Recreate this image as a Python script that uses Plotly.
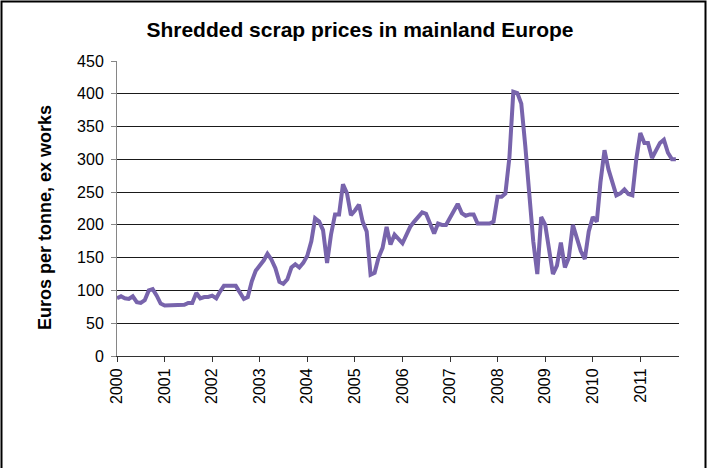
import plotly.graph_objects as go
import pandas as pd

# Monthly prices, Jan 2000 .. Oct 2011 (euros per tonne, ex works)
prices_2000 = [88, 91, 88, 87, 91, 82, 81, 85, 100, 102, 92, 80]
prices_2001 = [77, 77, 77, 77, 77, 78, 81, 81, 96, 88, 90, 90]
prices_2002 = [92, 88, 98, 107, 107, 107, 107, 97, 87, 90, 114, 130]
prices_2003 = [138, 146, 156, 147, 134, 113, 110, 117, 135, 140, 135, 142]
prices_2004 = [153, 175, 210, 205, 192, 142, 185, 216, 216, 262, 248, 215]
prices_2005 = [222, 231, 205, 190, 124, 127, 150, 165, 197, 170, 185, 178]
prices_2006 = [172, 185, 197, 205, 212, 219, 217, 202, 187, 202, 200, 200]
prices_2007 = [210, 222, 232, 218, 214, 216, 216, 202, 202, 202, 202, 205]
prices_2008 = [243, 243, 248, 303, 403, 401, 385, 320, 245, 175, 125, 212]
prices_2009 = [200, 160, 125, 138, 173, 135, 150, 200, 180, 160, 148, 190]
prices_2010 = [212, 205, 265, 314, 285, 262, 245, 248, 254, 247, 245, 300]
prices_2011 = [340, 325, 325, 302, 315, 325, 330, 310, 300, 300]

values = (prices_2000 + prices_2001 + prices_2002 + prices_2003 + prices_2004 +
          prices_2005 + prices_2006 + prices_2007 + prices_2008 + prices_2009 +
          prices_2010 + prices_2011)
dates = pd.date_range("2000-01-01", periods=len(values), freq="MS")

year_ticks = [f"{y}-01-01" for y in range(2000, 2012)]
year_labels = [str(y) for y in range(2000, 2012)]

FONT = "Liberation Sans, Arial, sans-serif"

fig = go.Figure()
fig.add_trace(go.Scatter(
    x=dates, y=values, mode="lines",
    line=dict(color="#7864AC", width=4),
    showlegend=False,
))

L, R, T, B = 117, 28, 61, 112
W, H = 707, 468
pw, ph = W - L - R, H - T - B

def px(xp):
    return (xp - L) / pw

def py(yp):
    return (H - B - yp) / ph

fig.update_layout(
    width=W, height=H,
    margin=dict(l=L, r=R, t=T, b=B),
    paper_bgcolor="white", plot_bgcolor="white",
    font=dict(family=FONT, size=16, color="black"),
    title=dict(text="<b>Shredded scrap prices in mainland Europe</b>",
               x=360 / W, xanchor="center", y=1 - 30 / H, yanchor="middle",
               font=dict(family=FONT, size=21, color="black")),
    xaxis=dict(
        type="date",
        range=["2000-01-01", "2011-10-25"],
        tickvals=year_ticks, ticktext=year_labels,
        tickangle=-90,
        ticks="outside", ticklen=5, tickcolor="#333333",
        showline=True, linecolor="#333333", linewidth=1,
        showgrid=False, zeroline=False,
        tickfont=dict(family=FONT, size=16, color="black"),
    ),
    yaxis=dict(
        range=[0, 450], dtick=50,
        ticks="outside", ticklen=5, tickcolor="#868686",
        showline=True, linecolor="#868686", linewidth=1,
        showgrid=True, gridcolor="#1a1a1a", gridwidth=1,
        zeroline=False, ticklabelstandoff=4,
        tickfont=dict(family=FONT, size=16, color="black"),
    ),
    annotations=[dict(
        text="<b>Euros per tonne, ex works</b>",
        xref="paper", yref="paper",
        x=px(45), y=py(218), textangle=-90,
        showarrow=False, xanchor="center", yanchor="middle",
        font=dict(family=FONT, size=18, color="black"),
    )],
    shapes=[dict(
        type="rect", xref="paper", yref="paper",
        x0=px(1.5), x1=px(705.5), y0=py(470), y1=py(1.5),
        line=dict(color="black", width=2), fillcolor="rgba(0,0,0,0)",
        layer="below",
    )],
)

fig.write_html("out.html", config={"displayModeBar": False},
               post_script="document.body.style.margin='0';")
